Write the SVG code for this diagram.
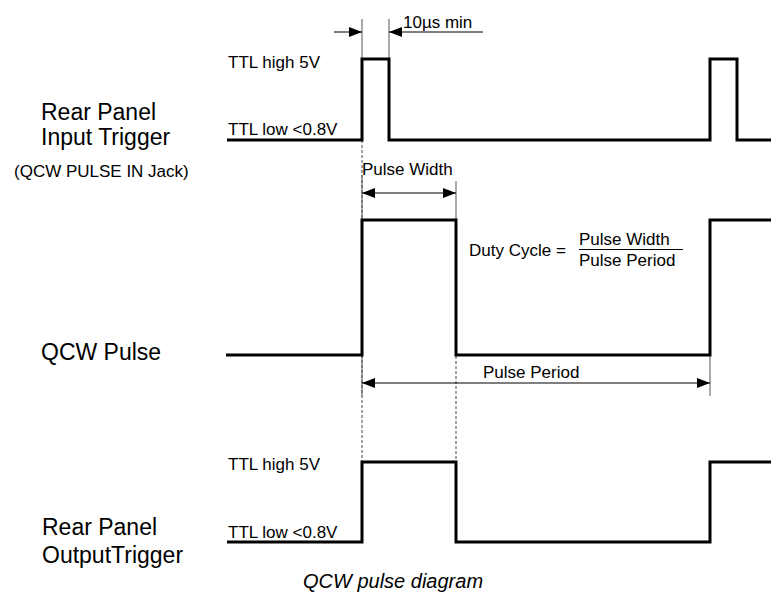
<svg xmlns="http://www.w3.org/2000/svg" width="771" height="592" viewBox="0 0 771 592">
<defs>
<style>
text{font-family:"Liberation Sans",Arial,sans-serif;fill:#000}
.s{font-size:17px}
.b{font-size:23px}
.cap{font-size:20px;font-style:italic}
.trace{fill:none;stroke:#000;stroke-width:3;stroke-linejoin:miter}
.ext{stroke:#555;stroke-width:1;fill:none}
.dash{stroke:#444;stroke-width:1;stroke-dasharray:3 2;fill:none}
.dim{stroke:#000;stroke-width:1;fill:none}
</style>
<marker id="ah" viewBox="0 0 13 10" refX="13" refY="5" markerWidth="13" markerHeight="10" markerUnits="userSpaceOnUse" orient="auto-start-reverse">
<path d="M0,0 L13,5 L0,10 Z" fill="#000"/>
</marker>
</defs>
<rect width="771" height="592" fill="#fff"/>

<g id="guides">
<line class="dash" x1="362" y1="140" x2="362" y2="462"/>
<line class="dash" x1="456" y1="356" x2="456" y2="462"/>
<line class="ext" x1="362" y1="19" x2="362" y2="59"/>
<line class="ext" x1="389" y1="19" x2="389" y2="59"/>
<line class="ext" x1="362" y1="175" x2="362" y2="220"/>
<line class="ext" x1="456" y1="181" x2="456" y2="220"/>
<line class="ext" x1="362" y1="355" x2="362" y2="396"/>
<line class="ext" x1="710" y1="355" x2="710" y2="396"/>
</g>

<g id="connectors">
<line class="dim" x1="334" y1="32" x2="362" y2="32" marker-end="url(#ah)"/>
<line class="dim" x1="483" y1="32" x2="389" y2="32" marker-end="url(#ah)"/>
<line class="dim" x1="362" y1="193" x2="456" y2="193" marker-start="url(#ah)" marker-end="url(#ah)"/>
<line class="dim" x1="362" y1="383" x2="710" y2="383" marker-start="url(#ah)" marker-end="url(#ah)"/>
</g>

<g id="input-trigger">
<path class="trace" d="M227,140 H362 V59 H389 V140 H710 V59 H737 V140 H771"/>
<text class="b" x="41" y="120">Rear Panel</text>
<text class="b" x="41" y="145">Input Trigger</text>
<text class="s" x="14" y="177">(QCW PULSE IN Jack)</text>
<text class="s" x="228" y="68">TTL high 5V</text>
<text class="s" x="228" y="135">TTL low &lt;0.8V</text>
<text class="s" x="403" y="28">10µs min</text>
</g>

<g id="qcw-pulse">
<path class="trace" d="M226,355 H362 V220 H456 V355 H710 V220 H771"/>
<text class="b" x="41" y="360">QCW Pulse</text>
<text class="s" x="362" y="175">Pulse Width</text>
<text class="s" x="483" y="378">Pulse Period</text>
</g>

<g id="duty-cycle">
<text class="s" x="469" y="256">Duty Cycle =</text>
<text class="s" x="579" y="245">Pulse Width</text>
<line x1="579" y1="249.5" x2="683" y2="249.5" stroke="#000" stroke-width="1"/>
<text class="s" x="579" y="266">Pulse Period</text>
</g>

<g id="output-trigger">
<path class="trace" d="M227,542 H362 V462 H456 V542 H710 V462 H771"/>
<text class="b" x="42" y="535">Rear Panel</text>
<text class="b" x="42" y="563">OutputTrigger</text>
<text class="s" x="228" y="470">TTL high 5V</text>
<text class="s" x="228" y="538">TTL low &lt;0.8V</text>
</g>

<text class="cap" x="303" y="588">QCW pulse diagram</text>
</svg>
